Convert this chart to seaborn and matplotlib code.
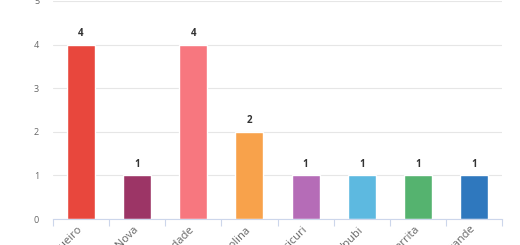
import matplotlib
matplotlib.use("Agg")
import matplotlib.pyplot as plt
import seaborn as sns
import pandas as pd

categories = ["Salgueiro", "Terra Nova", "Trindade", "Petrolina", "Ouricuri", "Ipubi", "Serrita", "Lagoa Grande"]
values = [4, 1, 4, 2, 1, 1, 1, 1]
colors = ["#E8473D", "#9C3566", "#F7777F", "#F8A24B", "#B56CB7", "#5DB9E0", "#55B36F", "#2F78BE"]
yticks = [0, 1, 2, 3, 4, 5]

df = pd.DataFrame({"city": categories, "count": values})

sns.set_theme(style="white")
plt.rcParams['font.family'] = ['Open Sans', 'DejaVu Sans']

fig = plt.figure(figsize=(5.2, 2.45), dpi=100)
ax = fig.add_axes([53/520, (245-219)/245, (502-53)/520, 218/245])

sns.barplot(data=df, x="city", y="count", hue="city", palette=colors,
            legend=False, width=0.5, ax=ax, saturation=1)

ax.set_ylim(0, 5)
ax.set_xlim(-0.5, len(categories) - 0.5)
ax.set_yticks(yticks)
ax.set_yticklabels([str(t) for t in yticks], fontsize=6.5, color="#666666")
ax.yaxis.grid(True, color="#e6e6e6", linewidth=0.8)
ax.set_axisbelow(True)
for s in ["top", "right", "left"]:
    ax.spines[s].set_visible(False)
ax.spines["bottom"].set_color("#ccd6eb")
ax.spines["bottom"].set_linewidth(0.8)
ax.tick_params(axis="y", length=0, pad=10)

# boundary ticks on the x axis
ax.set_xticks([i - 0.5 for i in range(len(categories) + 1)], minor=True)
ax.tick_params(axis="x", which="minor", length=5, color="#ccd6eb", width=0.8, direction="out", bottom=True)
ax.set_xticks(range(len(categories)))
ax.tick_params(axis="x", which="major", length=0, pad=6.5)
ax.set_xticklabels(categories, rotation=45, ha="right", va="center", rotation_mode="anchor",
                   fontsize=8, color="#666666")
ax.set_xlabel("")
ax.set_ylabel("")

for c in ax.containers:
    ax.bar_label(c, padding=4, fontsize=7, fontweight="bold", color="#333333")

fig.savefig("out.png", dpi=100)
